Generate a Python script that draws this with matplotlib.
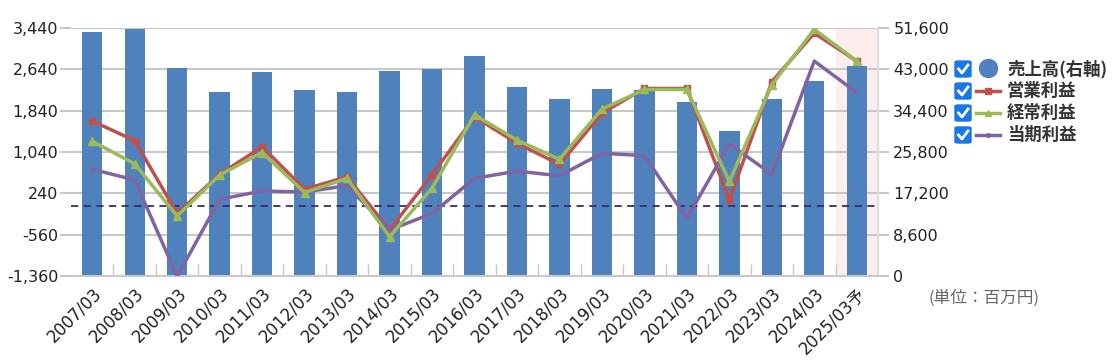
import numpy as np
import matplotlib
matplotlib.use('Agg')
import matplotlib.pyplot as plt
from matplotlib.patches import FancyBboxPatch
from matplotlib.lines import Line2D

plt.rcParams['font.family'] = ['DejaVu Sans', 'Noto Sans CJK JP']

years = ['2007/03', '2008/03', '2009/03', '2010/03', '2011/03', '2012/03', '2013/03',
         '2014/03', '2015/03', '2016/03', '2017/03', '2018/03', '2019/03', '2020/03',
         '2021/03', '2022/03', '2023/03', '2024/03', '2025/03予']
sales = [50700, 51400, 43300, 38300, 42400, 38600, 38300, 42650, 43000, 45800,
         39250, 36800, 38900, 38800, 36150, 30200, 36800, 40500, 43600]
op_profit = [1640, 1260, -150, 610, 1140, 320, 560, -470, 600, 1720,
             1210, 800, 1790, 2270, 2270, 110, 2400, 3340, 2800]
ord_profit = [1250, 810, -200, 595, 1030, 255, 530, -600, 340, 1760,
              1270, 900, 1870, 2250, 2250, 470, 2340, 3415, 2800]
net_profit = [705, 500, -1370, 125, 285, 265, 390, -470, -150, 530,
              670, 580, 1015, 970, -245, 1195, 610, 2800, 2190]

left_ticks = [-1360, -560, 240, 1040, 1840, 2640, 3440]
right_ticks = [0, 8600, 17200, 25800, 34400, 43000, 51600]

W, H = 1114, 364
fig = plt.figure(figsize=(W / 100, H / 100), dpi=100)
ax = fig.add_axes([71 / W, 1 - 276 / H, (878 - 71) / W, (276 - 28) / H])
ax2 = ax.twinx()

x = np.arange(len(years))
grid_c = '#c8c8c8'

# bars on the right axis (ax), lines on the left axis (ax2)
ax.axvspan(len(years) - 1.5, len(years) - 0.5, color='#fdeeee', zorder=0)
ax.bar(x, sales, width=0.48, color='#4f81bd', zorder=2)
ax.set_ylim(0, 51600)
ax.set_xlim(-0.5, len(years) - 0.5)
ax.yaxis.tick_right()
ax.set_yticks(right_ticks)
ax.set_yticklabels([f'{v:,}' for v in right_ticks], fontsize=11.5, color='#222222')
ax.grid(axis='y', color=grid_c, lw=1.5, zorder=1)
ax.set_axisbelow(True)
ax.tick_params(axis='y', length=8, width=1.5, color=grid_c, pad=3)
ax.set_xticks(x)
ax.set_xticklabels(years, rotation=45, ha='right', rotation_mode='anchor', fontsize=12,
                   color='#222222')
ax.tick_params(axis='x', length=0, pad=6)
ax.set_xticks(np.arange(0.5, len(years) - 1, 1), minor=True)
ax.tick_params(axis='x', which='minor', direction='in', length=9, width=1, color=grid_c)
for s in ['top', 'left']:
    ax.spines[s].set_visible(False)
ax.spines['bottom'].set_color(grid_c)
ax.spines['bottom'].set_linewidth(1.5)
ax.spines['right'].set_color('#dddddd')
ax.spines['right'].set_linewidth(1.5)

ax2.yaxis.tick_left()
ax2.set_ylim(-1360, 3440)
ax2.set_yticks(left_ticks)
ax2.set_yticklabels([f'{v:,}' for v in left_ticks], fontsize=11.5, color='#222222')
ax2.tick_params(axis='y', length=8, width=1.5, color=grid_c, pad=1)
for s in ax2.spines.values():
    s.set_visible(False)
ax2.axhline(0, color='#3d2b62', lw=1.3, ls=(0, (4, 3)), zorder=2)
ax2.plot(x, op_profit, color='#c0504d', lw=2.5, marker='s', ms=5, zorder=3)
ax2.plot(x, ord_profit, color='#9bbb59', lw=2.5, marker='^', ms=6, zorder=4)
ax2.plot(x, net_profit, color='#8064a2', lw=2.5, zorder=3)


def fx(px):
    return px / W


def fy(py):
    return 1 - py / H


# legend drawn by hand
labels = ['売上高(右軸)', '営業利益', '経常利益', '当期利益']
colors = ['#4f81bd', '#c0504d', '#9bbb59', '#8064a2']
rows = [69, 91, 113, 135]
for i, (lab, c, ry) in enumerate(zip(labels, colors, rows)):
    box = FancyBboxPatch((fx(955), fy(ry + 8)), 16 / W, 16 / H,
                         boxstyle='round,pad=0,rounding_size=0.003',
                         transform=fig.transFigure, color='#1a78e6')
    fig.patches.append(box)
    fig.lines.append(Line2D([fx(958.5), fx(962), fx(968)], [fy(ry), fy(ry + 4), fy(ry - 4)],
                            transform=fig.transFigure, color='white', lw=2))
    if i == 0:
        fig.lines.append(Line2D([fx(988)], [fy(ry - 1)], transform=fig.transFigure, color=c,
                                marker='o', ms=13, lw=0))
    else:
        mk = {1: 's', 2: '^', 3: 'o'}[i]
        fig.lines.append(Line2D([fx(976), fx(1000)], [fy(ry), fy(ry)],
                                transform=fig.transFigure, color=c, lw=2.5))
        fig.lines.append(Line2D([fx(988)], [fy(ry)], transform=fig.transFigure, color=c,
                                marker=mk, ms=4 if i != 3 else 2.5, lw=0))
    fig.text(fx(1007), fy(ry), lab, fontsize=12.5, fontweight='bold', color='#333333',
             va='center', ha='left', family=['Noto Sans CJK JP'])

fig.text(fx(928), fy(298), '(単位：百万円)', fontsize=12, color='#666666', va='center',
         ha='left', family=['Noto Sans CJK JP'])

fig.savefig('out.png', dpi=100)
